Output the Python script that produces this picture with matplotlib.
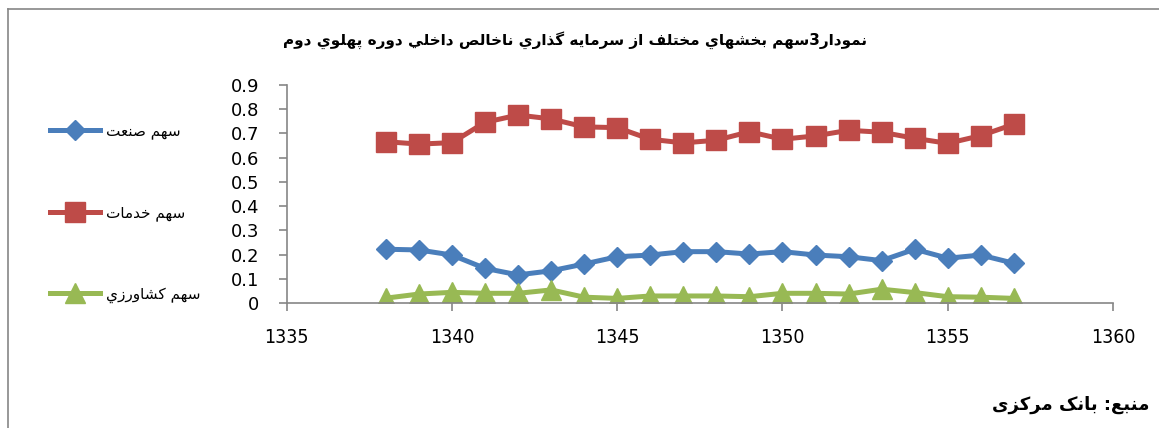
import re
import matplotlib
matplotlib.use('Agg')
import matplotlib.pyplot as plt
from matplotlib.lines import Line2D

# very small arabic/persian shaper: presentation forms + visual reversal
FORMS = {
    'ا': ('\uFE8D', '\uFE8E', None, None),
    'ب': ('\uFE8F', '\uFE90', '\uFE91', '\uFE92'),
    'پ': ('\uFB56', '\uFB57', '\uFB58', '\uFB59'),
    'ت': ('\uFE95', '\uFE96', '\uFE97', '\uFE98'),
    'خ': ('\uFEA5', '\uFEA6', '\uFEA7', '\uFEA8'),
    'د': ('\uFEA9', '\uFEAA', None, None),
    'ذ': ('\uFEAB', '\uFEAC', None, None),
    'ر': ('\uFEAD', '\uFEAE', None, None),
    'ز': ('\uFEAF', '\uFEB0', None, None),
    'س': ('\uFEB1', '\uFEB2', '\uFEB3', '\uFEB4'),
    'ش': ('\uFEB5', '\uFEB6', '\uFEB7', '\uFEB8'),
    'ص': ('\uFEB9', '\uFEBA', '\uFEBB', '\uFEBC'),
    'ع': ('\uFEC9', '\uFECA', '\uFECB', '\uFECC'),
    'ف': ('\uFED1', '\uFED2', '\uFED3', '\uFED4'),
    'ک': ('\uFB8E', '\uFB8F', '\uFB90', '\uFB91'),
    'گ': ('\uFB92', '\uFB93', '\uFB94', '\uFB95'),
    'ل': ('\uFEDD', '\uFEDE', '\uFEDF', '\uFEE0'),
    'م': ('\uFEE1', '\uFEE2', '\uFEE3', '\uFEE4'),
    'ن': ('\uFEE5', '\uFEE6', '\uFEE7', '\uFEE8'),
    'ه': ('\uFEE9', '\uFEEA', '\uFEEB', '\uFEEC'),
    'و': ('\uFEED', '\uFEEE', None, None),
    'ي': ('\uFEF1', '\uFEF2', '\uFEF3', '\uFEF4'),
    'ی': ('\uFBFC', '\uFBFD', '\uFBFE', '\uFBFF'),
}


def fa(text):
    out = []
    for i, ch in enumerate(text):
        if ch not in FORMS:
            out.append(ch)
            continue
        iso, fin, ini, med = FORMS[ch]
        prev = text[i - 1] if i > 0 else ''
        nxt = text[i + 1] if i + 1 < len(text) else ''
        jp = prev in FORMS and FORMS[prev][2] is not None
        jn = ini is not None and nxt in FORMS
        if jp and jn:
            out.append(med)
        elif jp:
            out.append(fin)
        elif jn:
            out.append(ini)
        else:
            out.append(iso)
    s = ''.join(out)[::-1]
    return re.sub(r'[0-9A-Za-z.]+', lambda m: m.group(0)[::-1], s)


title = 'نمودار3سهم بخشهاي مختلف از سرمايه گذاري ناخالص داخلي دوره پهلوي دوم'
source = 'منبع: بانک مرکزی'
labels = ['سهم صنعت', 'سهم خدمات', 'سهم کشاورزي']

years = list(range(1338, 1358))
industry = [0.222, 0.219, 0.198, 0.143, 0.116, 0.133, 0.161, 0.191, 0.198, 0.212,
            0.212, 0.202, 0.212, 0.198, 0.191, 0.175, 0.222, 0.185, 0.198, 0.164]
services = [0.666, 0.656, 0.662, 0.746, 0.776, 0.760, 0.727, 0.724, 0.676, 0.661,
            0.672, 0.707, 0.676, 0.690, 0.713, 0.705, 0.680, 0.659, 0.691, 0.738]
agriculture = [0.020, 0.037, 0.044, 0.040, 0.040, 0.054, 0.024, 0.019, 0.029, 0.029,
               0.029, 0.026, 0.040, 0.040, 0.037, 0.057, 0.043, 0.026, 0.024, 0.019]
xticks = [1335, 1340, 1345, 1350, 1355, 1360]
yticks = [0, 0.1, 0.2, 0.3, 0.4, 0.5, 0.6, 0.7, 0.8, 0.9]

W, H = 1159, 428
fig = plt.figure(figsize=(W / 100, H / 100), dpi=100)
ax = fig.add_axes([286.7 / W, 1 - 303 / H, (1113 - 286.7) / W, (303 - 85) / H])

ax.plot(years, industry, color='#4A7EBB', lw=3.6, marker='D', ms=10.5, label=fa(labels[0]))
ax.plot(years, services, color='#BE4B48', lw=3.6, marker='s', ms=14, label=fa(labels[1]))
ax.plot(years, agriculture, color='#98B954', lw=3.6, marker='^', ms=14, label=fa(labels[2]))

ax.set_xlim(1335, 1360)
ax.set_ylim(0, 0.9)
ax.set_xticks(xticks)
ax.set_yticks(yticks)
ax.set_yticklabels(['0'] + [f'{v:g}' for v in yticks[1:]])
for s in ['top', 'right']:
    ax.spines[s].set_visible(False)
for s in ['left', 'bottom']:
    ax.spines[s].set_color('#868686')
    ax.spines[s].set_linewidth(1.2)
ax.tick_params(axis='both', color='#868686', length=6, width=1.2, labelsize=13)
ax.tick_params(axis='y', pad=14)
ax.tick_params(axis='x', pad=12)
for t in ax.get_xticklabels():
    t.set_family(['DejaVu Sans Condensed', 'Liberation Sans Narrow', 'DejaVu Sans'])
    t.set_stretch('condensed')
    t.set_fontsize(14)
ax.patch.set_alpha(0)

leg = fig.legend(loc='upper left', bbox_to_anchor=(36 / W, 1 - 110 / H), frameon=False,
                 fontsize=11, handlelength=3.3, handletextpad=0.4, labelspacing=4.3)

fig.text(575 / W, 1 - 40 / H, fa(title), ha='center', va='center', fontsize=11,
         fontweight='bold')
fig.text(1150 / W, 1 - 405 / H, fa(source), ha='right', va='center', fontsize=13,
         fontweight='bold')

# outer frame (only top and left edges are visible in the picture)
fig.add_artist(Line2D([8 / W, 8 / W], [0, 1 - 9 / H], transform=fig.transFigure,
                      color='#868686', lw=1.2))
fig.add_artist(Line2D([8 / W, 1], [1 - 9 / H, 1 - 9 / H], transform=fig.transFigure,
                      color='#868686', lw=1.2))

fig.savefig('out.png', dpi=100)
